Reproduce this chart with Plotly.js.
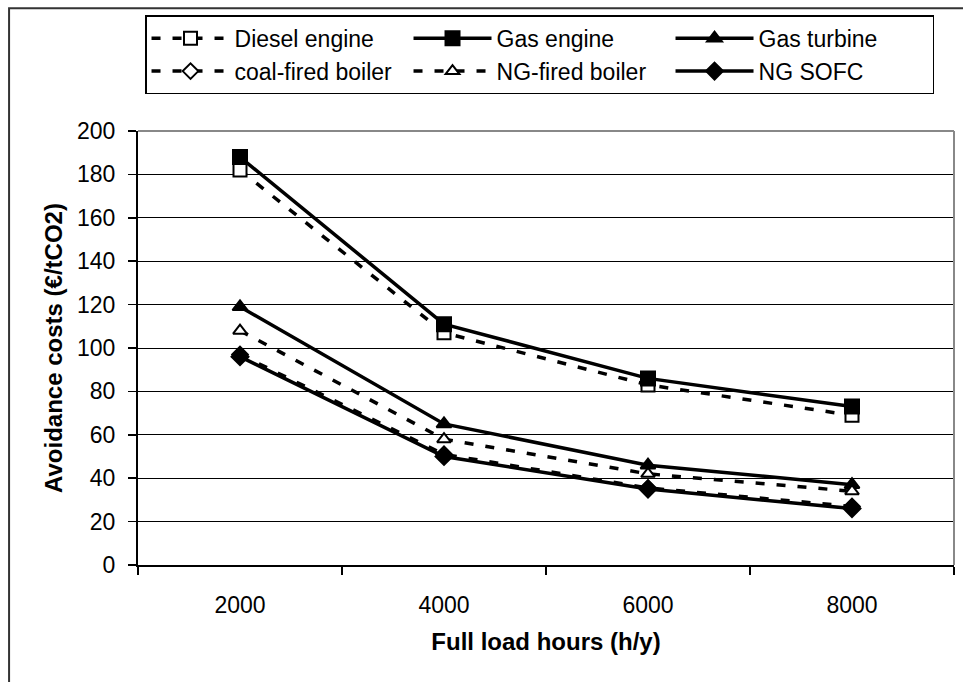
<!DOCTYPE html>
<html>
<head>
<meta charset="utf-8">
<script src="https://cdn.plot.ly/plotly-3.0.1.min.js"></script>
<style>html,body{margin:0;padding:0;background:#fff;}#chart{width:963px;height:682px;}</style>
</head>
<body>
<div id="chart"></div>
<script>
var categories = ["2000", "4000", "6000", "8000"];
var dieselEngine = [182, 107, 83, 69];
var gasEngine = [188, 111, 86, 73];
var gasTurbine = [119, 65, 46, 37];
var coalFiredBoiler = [97, 51, 35.5, 27];
var ngFiredBoiler = [108, 58, 42, 34];
var ngSofc = [96, 50, 35, 26];
var yTicks = [0, 20, 40, 60, 80, 100, 120, 140, 160, 180, 200];

var dashPat = "9px,12px";
function tr(name, y, dash, symbol, fill, size) {
  return {
    type: "scatter", mode: "lines+markers", name: name,
    x: categories, y: y,
    line: {color: "#000", width: 3.5, dash: dash},
    marker: {symbol: symbol, size: size, color: fill, line: {color: "#000", width: 2}}
  };
}
var data = [
  tr("Diesel engine", dieselEngine, dashPat, "square", "#fff", 13),
  tr("Gas engine", gasEngine, "solid", "square", "#000", 14),
  tr("Gas turbine", gasTurbine, "solid", "triangle-up", "#000", 13),
  tr("coal-fired boiler", coalFiredBoiler, dashPat, "diamond", "#fff", 12),
  tr("NG-fired boiler", ngFiredBoiler, dashPat, "triangle-up", "#fff", 12),
  tr("NG SOFC", ngSofc, "solid", "diamond", "#000", 13)
];

var layout = {
  width: 963, height: 682,
  margin: {l: 138, r: 9, t: 131, b: 117},
  paper_bgcolor: "#fff", plot_bgcolor: "#fff",
  font: {family: "Liberation Sans, Arial, sans-serif", color: "#000"},
  showlegend: true,
  legend: {
    orientation: "h", x: 0.0086, xanchor: "left", y: 1.2667, yanchor: "top",
    bordercolor: "#000", borderwidth: 1.5, bgcolor: "#fff",
    font: {size: 23, color: "#000"},
    entrywidth: 169, entrywidthmode: "pixels", itemwidth: 78,
    traceorder: "normal"
  },
  xaxis: {
    type: "category", range: [-0.5, 3.5],
    tickson: "boundaries", ticks: "outside", ticklen: 8, tickwidth: 1.5, tickcolor: "#000",
    showline: true, linecolor: "#000", linewidth: 2,
    showgrid: false, zeroline: false,
    tickfont: {size: 23, color: "#000"}, ticklabelstandoff: 18,
    title: {text: "Full load hours (h/y)", font: {size: 24, color: "#000", weight: "bold"}, standoff: 17}
  },
  yaxis: {
    range: [0, 200], tickvals: yTicks, ticktext: yTicks.map(String),
    ticks: "outside", ticklen: 8, tickwidth: 1.5, tickcolor: "#000",
    showline: true, linecolor: "#000", linewidth: 2,
    showgrid: true, gridcolor: "#000", gridwidth: 1, zeroline: false,
    tickfont: {size: 23, color: "#000"}, ticklabelstandoff: 8,
    title: {text: "Avoidance costs (€/tCO2)", font: {size: 24, color: "#000", weight: "bold"}, standoff: 8}
  },
  shapes: [
    {type: "line", xref: "paper", yref: "paper", x0: 0, x1: 1, y0: 1, y1: 1, line: {color: "#888", width: 2}, layer: "above"},
    {type: "line", xref: "paper", yref: "paper", x0: 1, x1: 1, y0: 0, y1: 1, line: {color: "#888", width: 2}, layer: "above"},
    {type: "rect", xref: "paper", yref: "paper", x0: -0.158, x1: 1.3, y0: -0.5, y1: 1.283, line: {color: "#333", width: 2}, fillcolor: "rgba(0,0,0,0)", layer: "below"}
  ]
};

Plotly.newPlot("chart", data, layout, {displayModeBar: false, staticPlot: true});
</script>
</body>
</html>
